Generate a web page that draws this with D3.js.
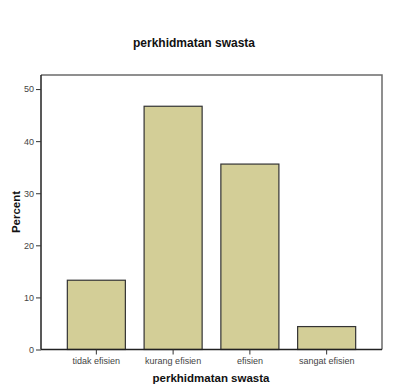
<!DOCTYPE html>
<html><head><meta charset="utf-8">
<script src="https://cdn.jsdelivr.net/npm/d3@7"></script>
<style>body{margin:0;background:#fff;}svg{display:block;font-family:"Liberation Sans",Arial,sans-serif;}</style>
</head><body>
<svg id="c" width="400" height="391"></svg>
<script>
const categories = ["tidak efisien", "kurang efisien", "efisien", "sangat efisien"];
const percents = [13.3, 46.7, 35.6, 4.4];
const yTicks = [0, 10, 20, 30, 40, 50];
const chartTitle = "perkhidmatan swasta";
const xTitle = "perkhidmatan swasta";
const yTitle = "Percent";

const svg = d3.select("#c");
const L = 41, R = 382, T = 75, B = 349.5;
const x = d3.scaleBand().domain(categories).range([L, R]).paddingInner(0.244).paddingOuter(0.343);
const y = d3.scaleLinear().domain([0, 52.7]).range([B, T]);

svg.append("rect").attr("width",400).attr("height",391).attr("fill","#fff");

// frame top/right
svg.append("path").attr("d",`M${L},${T}H${R}V${B}`).attr("fill","none").attr("stroke","#6b6b6b").attr("stroke-width",1.5);

svg.append("g").selectAll("rect").data(categories).join("rect")
  .attr("x", d => x(d)).attr("width", x.bandwidth())
  .attr("y", (d,i) => y(percents[i])).attr("height", (d,i) => B - y(percents[i]))
  .attr("fill", "#d3ce97").attr("stroke", "#333").attr("stroke-width", 1.2);

const ya = svg.append("g").attr("transform",`translate(${L},0)`)
  .call(d3.axisLeft(y).tickValues(yTicks).tickSize(5).tickPadding(2).tickSizeOuter(0));
ya.select(".domain").attr("stroke","#222").attr("stroke-width",1.5).attr("d",`M0,${T}V${B}`);
ya.selectAll(".tick line").attr("stroke","#333");
ya.selectAll(".tick text").attr("font-size",9).attr("fill","#444").attr("font-family","Liberation Sans, Arial, sans-serif");

const xa = svg.append("g").attr("transform",`translate(0,${B})`)
  .call(d3.axisBottom(x).tickSize(5).tickPadding(3).tickSizeOuter(0));
xa.select(".domain").attr("stroke","#222").attr("stroke-width",1.5).attr("d",`M${L},0H${R}`);
xa.selectAll(".tick line").attr("stroke","#333");
xa.selectAll(".tick text").attr("font-size",9).attr("fill","#444").attr("font-family","Liberation Sans, Arial, sans-serif");

svg.append("text").attr("x",194).attr("y",47).attr("text-anchor","middle")
  .attr("font-size",12).attr("font-weight","bold").attr("fill","#111").text(chartTitle);
svg.append("text").attr("x",211).attr("y",382).attr("text-anchor","middle")
  .attr("font-size",11.5).attr("font-weight","bold").attr("fill","#111").text(xTitle);
svg.append("text").attr("transform",`translate(20,212) rotate(-90)`).attr("text-anchor","middle")
  .attr("font-size",11.5).attr("font-weight","bold").attr("fill","#111").text(yTitle);
</script>
</body></html>
